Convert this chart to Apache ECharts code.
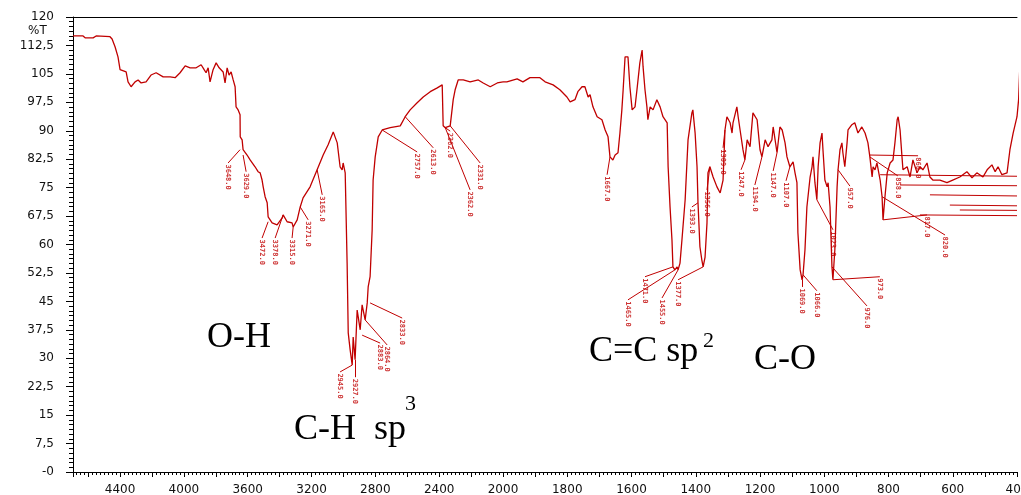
<!DOCTYPE html>
<html>
<head>
<meta charset="utf-8">
<script src="https://cdn.jsdelivr.net/npm/echarts@6/dist/echarts.min.js"></script>
<style>
  html, body { margin: 0; padding: 0; background: #fff; }
  #chart { width: 1021px; height: 495px; }
</style>
</head>
<body>
<div id="chart"></div>
<script>
// IR spectrum, [wavenumber cm-1, %T]
const spectrum = [
  [4695,115.0],[4632,115.0],[4619,114.5],[4569,114.5],[4550,115.0],[4538,114.8],[4463,114.8],[4450,114.2],
  [4431,112.1],[4413,109.5],[4400,106.1],[4362,105.5],[4350,102.9],[4331,101.6],[4306,102.9],[4287,103.4],
  [4268,102.6],[4237,102.9],[4206,104.7],[4174,105.3],[4130,104.2],[4086,104.2],[4055,104.0],[4024,105.3],
  [3992,107.1],[3961,106.6],[3923,106.6],[3892,107.4],[3873,106.1],[3861,105.3],[3848,106.6],[3836,102.9],
  [3817,106.1],[3798,107.9],[3779,106.6],[3767,107.1],[3754,105.5],[3742,102.6],[3729,106.6],[3717,104.7],
  [3704,105.5],[3691,103.4],[3679,101.6],[3673,96.3],[3660,95.5],[3648,94.2],[3647,88.4],[3635,87.6],
  [3629,85.0],[3604,83.6],[3585,82.3],[3554,80.5],[3535,79.2],[3522,78.9],[3510,77.0],[3503,75.2],
  [3491,72.6],[3478,71.0],[3472,67.3],[3447,65.7],[3416,65.2],[3384,67.0],[3378,67.8],[3353,66.0],
  [3322,65.7],[3315,64.6],[3290,66.5],[3271,69.9],[3253,72.3],[3209,75.2],[3165,79.7],[3127,83.6],
  [3096,86.3],[3064,89.7],[3039,86.8],[3021,80.5],[3008,79.7],[3002,81.5],[2989,78.9],[2977,55.1],
  [2970,36.7],[2958,32.2],[2945,28.2],[2939,35.6],[2927,29.6],[2914,42.7],[2895,37.5],[2883,44.1],
  [2864,40.1],[2851,44.6],[2845,48.8],[2833,51.5],[2820,63.9],[2814,77.0],[2801,83.1],[2782,88.4],
  [2757,90.2],[2707,90.8],[2644,91.3],[2613,93.7],[2582,95.5],[2538,97.4],[2500,98.9],[2456,100.3],
  [2412,101.3],[2381,102.1],[2375,91.3],[2362,90.8],[2331,91.3],[2312,98.2],[2300,100.8],[2281,103.4],
  [2249,103.4],[2206,102.9],[2155,103.4],[2124,102.6],[2080,101.6],[2036,102.6],[2000,102.9],
  [1988,102.9],[1956,103.7],[1938,102.9],[1916,104.0],[1885,104.0],[1869,102.9],[1844,102.1],[1823,100.8],
  [1801,98.9],[1791,97.6],[1776,98.2],[1767,100.3],[1754,101.6],[1745,101.6],[1735,98.9],[1729,99.5],
  [1720,96.3],[1707,93.7],[1692,92.9],[1682,90.2],[1673,88.4],[1667,83.1],[1658,82.3],[1651,83.6],
  [1642,84.2],[1636,89.4],[1630,95.5],[1626,100.8],[1620,109.5],[1611,109.5],[1605,101.6],[1598,95.5],
  [1589,96.3],[1583,100.8],[1574,107.9],[1567,111.3],[1564,106.9],[1558,100.8],[1552,96.3],[1549,92.9],
  [1542,96.3],[1533,95.5],[1521,98.2],[1511,96.3],[1502,93.7],[1489,92.1],[1486,80.5],[1480,69.9],
  [1474,61.2],[1471,54.1],[1465,53.3],[1458,54.1],[1455,53.3],[1449,55.1],[1443,61.2],[1433,71.8],
  [1424,87.6],[1412,94.7],[1409,95.5],[1402,89.4],[1396,80.5],[1393,71.0],[1387,59.4],[1381,55.9],
  [1377,54.1],[1371,56.7],[1365,65.7],[1362,78.9],[1356,80.5],[1346,77.8],[1334,75.2],[1324,73.6],
  [1315,77.0],[1309,90.2],[1303,93.7],[1293,92.1],[1287,89.4],[1284,92.1],[1272,96.3],[1268,93.7],
  [1262,90.2],[1253,85.0],[1247,82.3],[1240,87.6],[1231,85.8],[1222,94.7],[1209,92.9],[1200,85.0],
  [1194,83.1],[1184,87.6],[1175,85.8],[1163,87.6],[1159,91.0],[1147,84.2],[1138,91.0],[1131,90.2],
  [1122,86.8],[1116,83.1],[1107,80.5],[1097,81.8],[1091,78.9],[1085,76.3],[1082,63.1],[1075,53.3],
  [1069,50.7],[1066,52.0],[1060,58.6],[1054,69.9],[1044,77.8],[1038,80.5],[1035,83.1],[1029,76.3],
  [1023,71.8],[1019,80.5],[1013,86.8],[1007,89.4],[1004,85.0],[998,77.0],[991,75.2],[988,76.3],
  [982,69.9],[976,54.1],[973,50.7],[967,58.6],[960,75.2],[957,79.7],[951,85.0],[945,86.8],
  [942,84.2],[936,80.5],[929,86.8],[926,90.2],[914,91.6],[905,92.1],[895,89.4],[883,91.0],
  [873,89.4],[864,86.8],[858,83.1],[851,77.8],[848,80.5],[842,79.7],[836,81.5],[826,77.0],
  [820,72.6],[817,66.5],[811,72.6],[804,78.9],[795,81.5],[786,82.3],[780,86.8],[773,92.9],
  [770,93.7],[764,90.2],[758,83.1],[755,79.7],[742,80.5],[733,77.8],[724,82.3],[711,78.9],
  [702,80.5],[693,79.7],[680,81.5],[671,77.8],[662,77.0],[640,77.0],[618,76.3],[600,77.0],
  [578,77.8],[556,79.2],[540,77.6],[525,78.9],[506,77.8],[493,79.7],[478,81.0],[468,79.2],
  [459,80.5],[447,78.4],[431,78.9],[422,85.0],[412,89.4],[400,93.7],[395,98.2],[391,107.4]
];

// peak picks: [peak wn, peak %T, label wn, label %T]
const leaders = [
  [3648,85.0,3723,81.5],[3629,83.6,3610,79.2],[3472,66.0,3510,61.7],[3378,67.8,3428,61.7],
  [3315,64.6,3322,61.7],[3271,69.9,3221,66.5],[3165,79.7,3133,73.1],[2945,28.2,3021,26.4],
  [2927,29.6,2927,25.0],[2883,36.1,2770,34.0],[2864,40.1,2726,33.5],[2833,44.6,2632,40.6],
  [2757,90.2,2538,84.4],[2613,93.7,2437,85.5],[2362,90.8,2331,89.9],[2331,91.3,2143,81.5],
  [2362,90.8,2206,74.4],
  [1667,83.1,1676,78.4],[1471,54.1,1558,51.5],[1465,53.3,1611,45.4],[1455,53.3,1505,45.9],
  [1377,54.1,1455,50.7],[1393,71.0,1412,69.9],[1356,80.5,1365,74.4],[1309,90.2,1315,85.5],
  [1247,82.3,1259,79.7],[1194,83.1,1216,75.7],[1147,84.2,1159,79.4],[1107,80.5,1119,76.8],
  [1069,50.7,1069,48.8],[1066,52.0,1023,47.8],[1023,71.8,973,63.9],[957,79.7,920,75.4],
  [973,50.7,827,51.5],[976,54.1,867,43.8],[858,83.1,771,78.1],[817,66.5,680,67.8],
  [820,72.6,624,62.5],
  [860,83.6,708,83.4],[826,78.4,400,78.0],[764,75.7,400,75.5],[671,73.1,400,72.8],
  [609,70.4,400,70.2],[578,69.1,400,69.0],[702,67.8,400,67.6]
];

const bands = [
  { text: 'O-H', left: 207, top: 320 },
  { text: 'C-H  sp', sup: '3', left: 294, top: 412, supLeft: 405, supTop: 393 },
  { text: 'C=C sp', sup: '2', left: 589, top: 334, supLeft: 703, supTop: 330 },
  { text: 'C-O', left: 754, top: 342 }
];

const BREAK = 2000;   // scale doubles below 2000 cm-1
const RED = '#c00000';
const AXIS_FONT = 'DejaVu Sans';

const chart = echarts.init(document.getElementById('chart'), null, { renderer: 'canvas' });

const onLeft = p => p[0] >= BREAK;
const onRight = p => p[0] <= BREAK;
const belowBreak = p => p[0] < BREAK;

function leaderLines(list) {
  return list.map(l => ({ coords: [[l[0], l[1]], [l[2], l[3]]] }));
}
function leaderLabels(list) {
  return list.filter(l => l[2] > 400).map(l => [l[2], l[3], l[0].toFixed(1)]);
}

const baseX = {
  type: 'value',
  inverse: true,
  axisLine: { lineStyle: { color: '#000', width: 1 } },
  axisTick: { length: 5, lineStyle: { color: '#000' } },
  minorTick: { show: true, splitNumber: 8, length: 3, lineStyle: { color: '#000' } },
  splitLine: { show: false },
  minorSplitLine: { show: false }
};
const topX = {
  type: 'value',
  position: 'top',
  inverse: true,
  axisLine: { show: true, lineStyle: { color: '#000', width: 1 } },
  axisTick: { show: false },
  axisLabel: { show: false },
  splitLine: { show: false }
};
const labelStyle = { color: '#111', fontSize: 12, fontFamily: AXIS_FONT, margin: 12 };
const serif = size => size + 'px "Liberation Serif"';

const option = {
  animation: false,
  backgroundColor: '#fff',
  grid: [
    { left: 73, top: 17, width: 430, bottom: 23, outerBoundsMode: 'none' },
    { left: 503, top: 17, width: 514, bottom: 23, outerBoundsMode: 'none' }
  ],
  xAxis: [
    Object.assign({}, baseX, {
      gridIndex: 0, min: 2000, max: 4695, interval: 200,
      axisLabel: Object.assign({}, labelStyle, { formatter: v => (v % 400 === 0 ? String(v) : '') })
    }),
    Object.assign({}, baseX, {
      gridIndex: 1, min: 400, max: 2000, interval: 100,
      axisLabel: Object.assign({}, labelStyle, { formatter: v => (v % 200 === 0 && v !== 2000 ? String(v) : '') })
    }),
    Object.assign({}, topX, { gridIndex: 0, min: 2000, max: 4695 }),
    Object.assign({}, topX, { gridIndex: 1, min: 400, max: 2000 })
  ],
  yAxis: [
    {
      gridIndex: 0, type: 'value', min: 0, max: 120, interval: 7.5,
      axisLine: { show: true, lineStyle: { color: '#000', width: 1 } },
      axisTick: { show: true, length: 7, lineStyle: { color: '#000' } },
      minorTick: { show: true, splitNumber: 6, length: 4, lineStyle: { color: '#000' } },
      splitLine: { show: false },
      axisLabel: Object.assign({}, labelStyle, {
        margin: 19,
        formatter: v => (v === 0 ? '-0' : String(v).replace('.', ','))
      })
    },
    { gridIndex: 1, type: 'value', min: 0, max: 120, show: false }
  ],
  series: [
    {
      type: 'line', xAxisIndex: 0, yAxisIndex: 0, data: spectrum.filter(onLeft),
      showSymbol: false, lineStyle: { color: RED, width: 1.3 }
    },
    {
      type: 'line', xAxisIndex: 1, yAxisIndex: 1, data: spectrum.filter(onRight),
      showSymbol: false, clip: false, lineStyle: { color: RED, width: 1.3 }
    },
    {
      type: 'lines', coordinateSystem: 'cartesian2d', xAxisIndex: 0, yAxisIndex: 0,
      data: leaderLines(leaders.filter(onLeft)), lineStyle: { color: RED, width: 1, opacity: 1 }
    },
    {
      type: 'lines', coordinateSystem: 'cartesian2d', xAxisIndex: 1, yAxisIndex: 1,
      data: leaderLines(leaders.filter(belowBreak)), lineStyle: { color: RED, width: 1, opacity: 1 }
    },
    ...[0, 1].map(i => ({
      type: 'scatter', xAxisIndex: i, yAxisIndex: i,
      data: leaderLabels(leaders.filter(i === 0 ? onLeft : belowBreak)),
      symbolSize: 1,
      itemStyle: { color: 'rgba(0,0,0,0)' },
      label: {
        show: true, position: [0, 2], rotate: -90, align: 'left', verticalAlign: 'middle',
        formatter: p => p.data[2], fontSize: 7, fontWeight: 'bold',
        fontFamily: 'DejaVu Sans Mono', color: RED
      }
    }))
  ],
  graphic: [
    { type: 'text', left: 28, top: 25, style: { text: '%T', font: '12px "DejaVu Sans"', fill: '#111' } }
  ].concat(bands.flatMap(b => {
    const out = [{
      type: 'text', left: b.left, top: b.top,
      style: { text: b.text, font: serif(36), fill: '#000' }
    }];
    if (b.sup) {
      out.push({
        type: 'text', left: b.supLeft, top: b.supTop,
        style: { text: b.sup, font: serif(22), fill: '#000' }
      });
    }
    return out;
  }))
};

chart.setOption(option);
</script>
</body>
</html>
